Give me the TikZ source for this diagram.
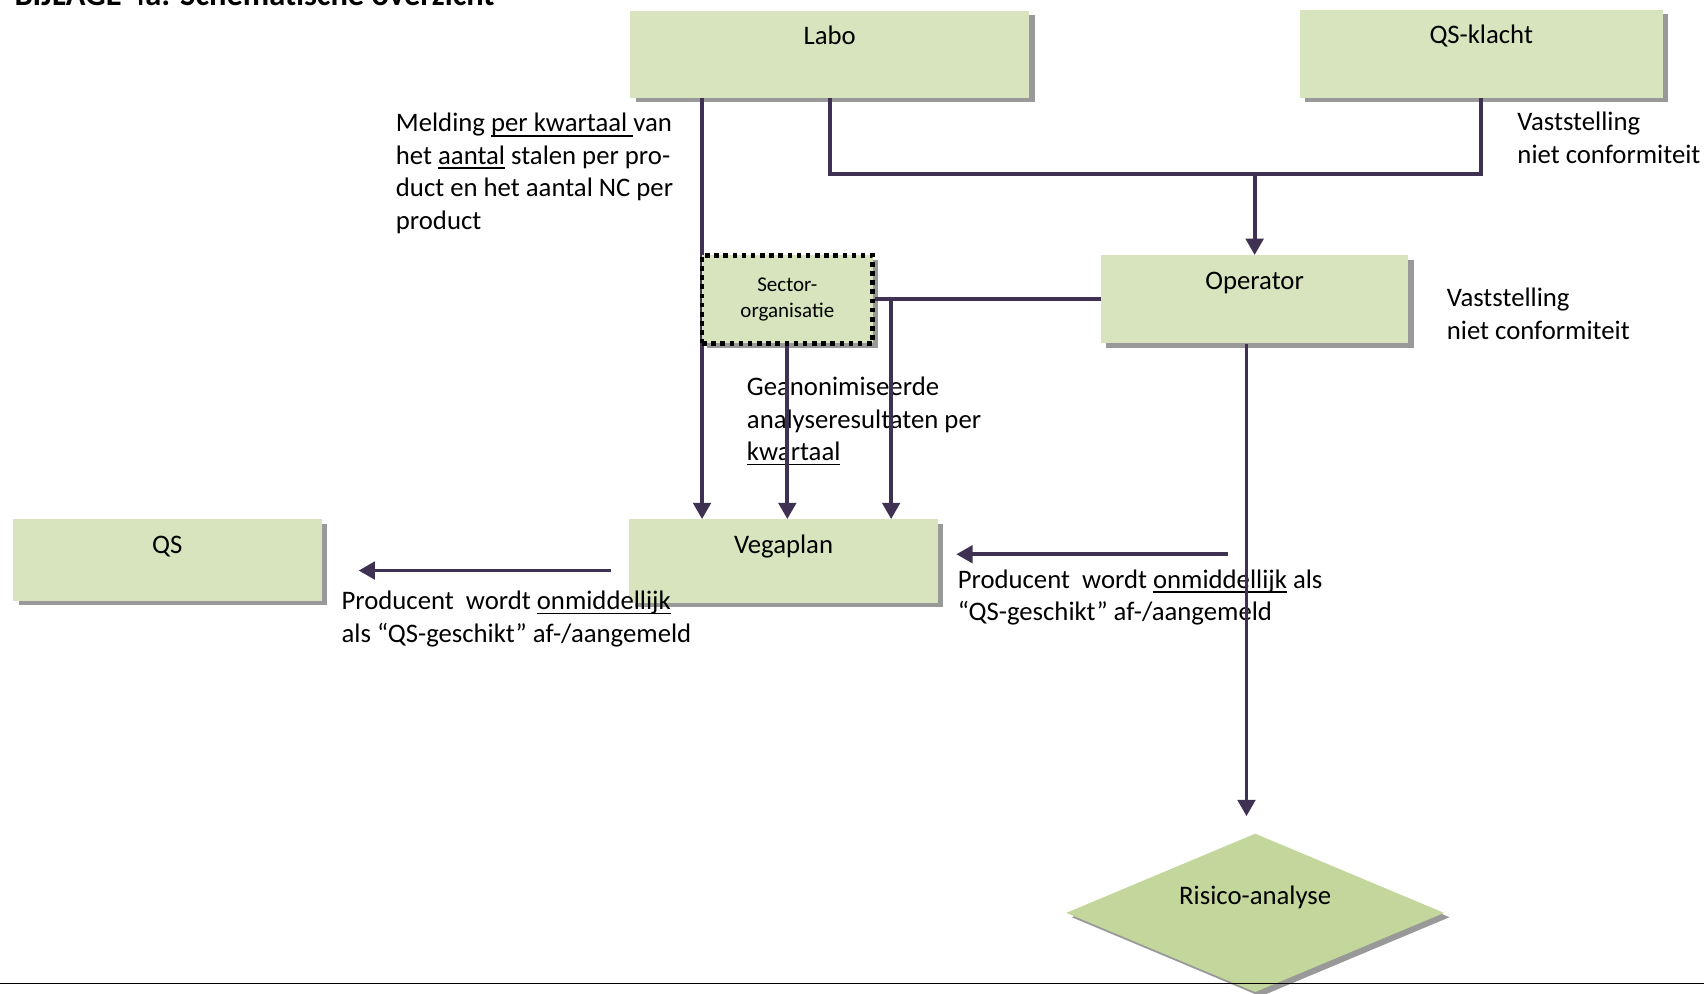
\documentclass[tikz,border=0pt]{standalone}
\usepackage{fontspec}
\setmainfont{Carlito}
\usetikzlibrary{arrows.meta,shapes.geometric,shadows}
\definecolor{boxgreen}{HTML}{D7E4BD}
\definecolor{riskgreen}{HTML}{C3D69B}
\definecolor{flowline}{HTML}{3F3151}
\newcommand\undl[1]{\setbox0\hbox{#1}\rlap{\rule[-2.4pt]{\wd0}{0.8pt}}\box0\relax}

\begin{document}
\begin{tikzpicture}[x=0.02cm,y=-0.02cm,
  every node/.style={font=\fontsize{14}{17}\selectfont},
  boxshadow/.style={general shadow={fill=black!40,shadow xshift=0.1cm,shadow yshift=-0.08cm}},
  box/.style={fill=boxgreen,inner sep=0pt,text height=0.62cm,boxshadow},
  flow/.style={flowline,line width=2pt},
  arr/.style={flow,-{Triangle[width=0.32cm,length=0.3cm]}},
  note/.style={anchor=base west,align=left,inner sep=0pt}]
\clip (0,0) rectangle (1568,914);

\node[anchor=base west,inner sep=0pt,font=\bfseries\fontsize{17}{20}\selectfont] (title) at (13,5.5) {BIJLAGE 4a: Schematische overzicht};

\node[box,minimum width=7.34cm,text depth=0.98cm] (labo) at (763.5,50) {Labo};
\node[box,minimum width=6.68cm,text depth=1.0cm] (qsklacht) at (1363,49.5) {QS-klacht};
\node[box,minimum width=5.66cm,text depth=1.0cm] (operator) at (1154.5,275.5) {Operator};
\node[box,minimum width=5.68cm,text depth=0.92cm] (vegaplan) at (721,516.5) {Vegaplan};
\node[box,minimum width=5.68cm,text depth=0.88cm] (qs) at (154,515.5) {QS};
\node[diamond,aspect=2.4,fill=riskgreen,inner sep=0pt,minimum width=6.96cm,minimum height=2.92cm,text height=0.3cm,text depth=0.62cm,boxshadow] (risico) at (1155,840) {Risico-analyse};

\node[note] (melding) at (364,211) {Melding \undl{per kwartaal\ }van\\het \undl{aantal} stalen per pro-\\duct en het aantal NC per\\product};
\node[note] (anoniem) at (687,424) {Geanonimiseerde\\analyseresultaten per\\\undl{kwartaal}};
\node[note] (ncklacht) at (1396,150) {Vaststelling\\niet conformiteit};
\node[note] (ncoperator) at (1331,312) {Vaststelling\\niet conformiteit};
\node[note] (meldvegaplan) at (881,571) {Producent\ \ wordt \undl{onmiddellijk} als\\“QS-geschikt” af-/aangemeld};
\node[note] (meldqs) at (314,591) {Producent\ \ wordt \undl{onmiddellijk}\\als “QS-geschikt” af-/aangemeld};

\draw[arr] (labo.south -| 646,0) -- (vegaplan.north -| 646,0);

\node[fill=boxgreen,draw=black,line width=2.4pt,dash pattern=on 2.4pt off 2.4pt,minimum width=3.14cm,minimum height=1.62cm,inner sep=0pt,align=center,font=\fontsize{11}{13.7}\selectfont,boxshadow] (sector) at (724.5,275.5) {Sector-\\organisatie};

\coordinate (split) at (820,275.5);
\coordinate (merge) at (1154.5,160);
\coordinate (riskin) at (1147,751);
\coordinate (vegfrom) at (1130,510);
\coordinate (vegto) at (880,510);
\coordinate (qsfrom) at (562,525);
\coordinate (qsto) at (330,525);
\coordinate (ruleL) at (0,905);
\coordinate (ruleR) at (1568,905);

\draw[arr] (sector.south) -- (sector.south |- vegaplan.north);
\draw[flow] (operator.west) -- (sector.east);
\draw[arr] (split) -- (split |- vegaplan.north);
\draw[flow] (labo.south) |- (merge) -| (qsklacht.south);
\draw[arr] (merge) -- (operator.north);
\draw[arr] (operator.south -| riskin) -- (riskin);
\draw[arr] (vegfrom) -- (vegto);
\draw[arr] (qsfrom) -- (qsto);
\draw[black,line width=1pt] (ruleL) -- (ruleR);
\end{tikzpicture}
\end{document}
